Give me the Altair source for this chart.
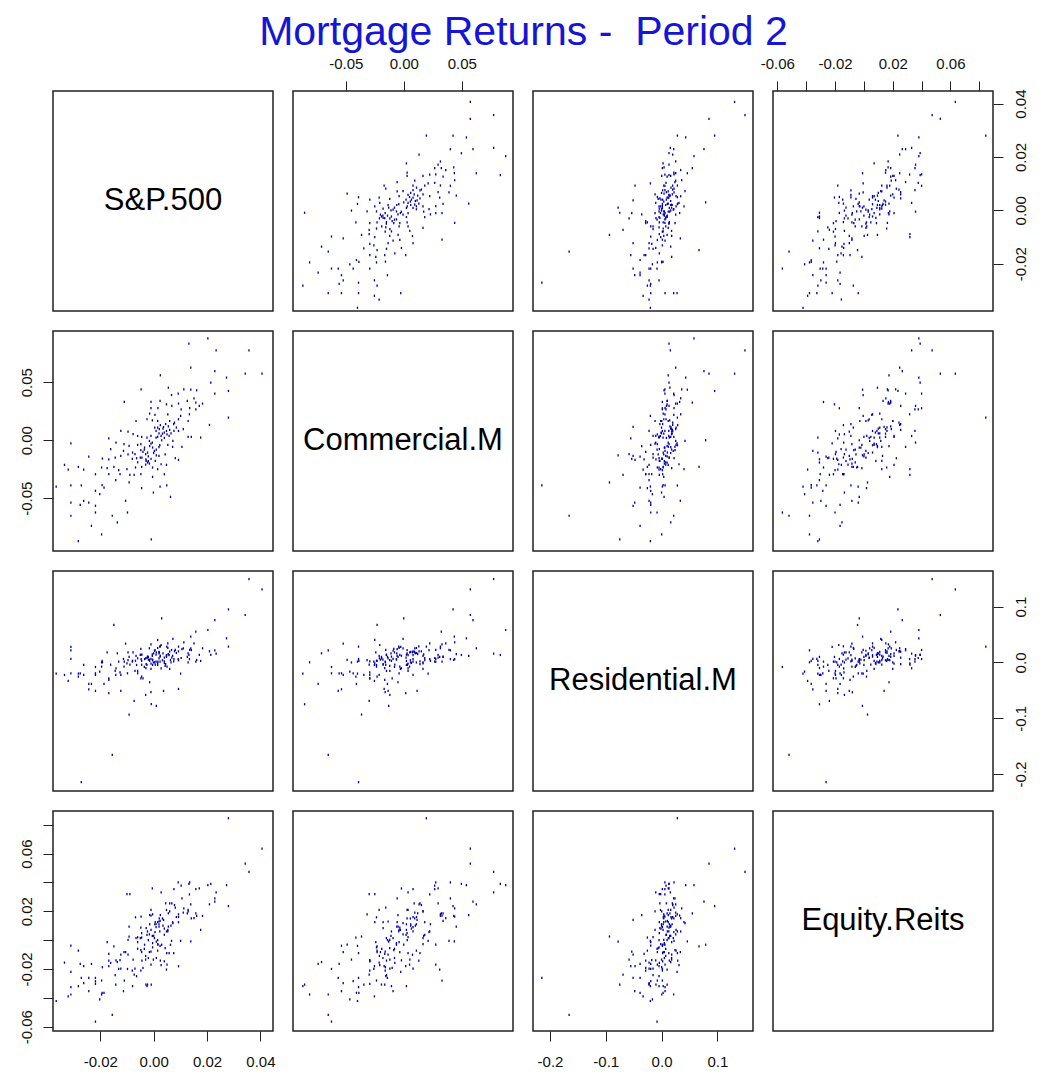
import altair as alt
import pandas as pd
import numpy as np

TITLE = "Mortgage Returns -\u00a0 Period 2"
NAMES = ["S&P.500", "Commercial.M", "Residential.M", "Equity.Reits"]
VARS = ["sp", "cm", "re", "eq"]

# ---- S&P.500 vs Commercial.M (read from the S&P / Commercial panel) ----
comm_sp = [0.0203,0.0132,0.0234,0.0357,0.0139,0.0229,0.0025,0.0343,0.0406,0.0214,
0.0273,0.0055,-0.0047,0.0280,0.0229,0.0113,0.0139,0.0161,0.0092,0.0067,
-0.0110,-0.0010,0.0024,0.0048,0.0068,0.0093,0.0126,0.0151,0.0158,0.0183,
0.0171,0.0158,0.0103,0.0135,-0.0010,0.0016,-0.0015,0.0005,0.0053,0.0101,
0.0134,0.0129,0.0093,0.0078,0.0060,0.0280,0.0209,-0.0066,-0.0025,-0.0005,
0.0015,0.0037,0.0021,0.0004,0.0048,0.0033,0.0058,0.0076,0.0093,0.0111,
0.0129,0.0141,0.0176,-0.0123,-0.0096,-0.0077,-0.0060,-0.0045,-0.0025,-0.0010,
0.0009,-0.0168,-0.0310,-0.0141,-0.0111,-0.0092,-0.0060,-0.0034,-0.0010,0.0023,
0.0053,0.0071,0.0106,-0.0161,-0.0113,-0.0096,-0.0079,-0.0048,-0.0023,0.0003,
0.0020,0.0043,0.0081,0.0093,-0.0243,-0.0192,-0.0168,-0.0144,-0.0123,-0.0064,
-0.0044,-0.0028,-0.0016,0.0006,0.0028,0.0048,-0.0334,-0.0320,-0.0282,-0.0262,
-0.0195,-0.0174,-0.0149,-0.0131,-0.0100,-0.0068,-0.0045,-0.0004,0.0015,-0.0218,
-0.0168,-0.0126,-0.0089,-0.0073,-0.0048,-0.0004,0.0040,-0.0142,-0.0092,-0.0365,
-0.0310,-0.0271,-0.0193,-0.0186,-0.0045,0.0024,0.0049,-0.0218,-0.0202,-0.0001,
0.0063,-0.0310,-0.0275,-0.0262,-0.0243,-0.0105,-0.0218,-0.0310,-0.0218,-0.0098,
-0.0155,-0.0136,-0.0233,-0.0195,-0.0282,-0.0009,
0.0009,0.0028,0.0040,-0.0016,-0.0004,-0.0029,-0.0023,0.0015,0.0072,-0.0048,
-0.0040,-0.0030,-0.0020,-0.0010,0.0000,0.0010,0.0020,0.0030,0.0040,0.0050,
0.0060,0.0035,0.0025,0.0045,0.0055,0.0065,-0.0005,-0.0015,-0.0035,-0.0050,
-0.0060,-0.0030,-0.0020,0.0010,0.0020,0.0015,-0.0070,-0.0080,0.0085,0.0075]
comm_val = [0.0879,0.0833,0.0775,0.0775,0.0626,0.0597,0.0560,0.0574,0.0574,0.0497,
0.0540,0.0453,0.0439,0.0425,0.0402,0.0439,0.0436,0.0431,0.0402,0.0390,
0.0330,0.0330,0.0339,0.0310,0.0296,0.0316,0.0339,0.0362,0.0324,0.0316,
0.0296,0.0267,0.0267,0.0276,0.0276,0.0276,0.0230,0.0218,0.0224,0.0210,
0.0224,0.0166,0.0181,0.0152,0.0166,0.0195,0.0132,0.0166,0.0181,0.0172,
0.0166,0.0115,0.0095,0.0109,0.0080,0.0057,0.0037,0.0080,0.0080,0.0095,
0.0029,0.0029,0.0023,0.0080,0.0075,0.0052,0.0037,0.0029,0.0023,0.0037,
0.0023,0.0017,-0.0026,-0.0020,-0.0034,-0.0049,-0.0040,-0.0063,-0.0029,-0.0043,
-0.0040,-0.0057,-0.0057,-0.0077,-0.0092,-0.0121,-0.0106,-0.0086,-0.0106,-0.0092,
-0.0135,-0.0121,-0.0155,-0.0169,-0.0141,-0.0158,-0.0164,-0.0149,-0.0135,-0.0155,
-0.0149,-0.0178,-0.0201,-0.0178,-0.0207,-0.0212,-0.0212,-0.0253,-0.0230,-0.0253,
-0.0235,-0.0241,-0.0230,-0.0258,-0.0250,-0.0235,-0.0230,-0.0235,-0.0250,-0.0293,
-0.0293,-0.0293,-0.0298,-0.0298,-0.0293,-0.0316,-0.0293,-0.0344,-0.0364,-0.0399,
-0.0390,-0.0390,-0.0387,-0.0408,-0.0413,-0.0399,-0.0390,-0.0436,-0.0465,-0.0451,
-0.0488,-0.0537,-0.0557,-0.0522,-0.0537,-0.0522,-0.0565,-0.0651,-0.0623,-0.0623,
-0.0651,-0.0709,-0.0738,-0.0812,-0.0870,-0.0855,
0.0080,0.0037,0.0066,-0.0006,-0.0063,-0.0164,-0.0192,0.0109,-0.0006,-0.0034,
-0.0100,-0.0120,-0.0140,-0.0160,-0.0110,-0.0080,-0.0060,0.0000,0.0020,0.0050,
0.0090,0.0100,0.0130,0.0140,0.0120,0.0060,-0.0020,-0.0050,-0.0080,-0.0150,
-0.0190,-0.0210,-0.0180,-0.0130,0.0060,0.0030,-0.0120,-0.0160,0.0110,0.0140]

# ---- S&P.500 vs Equity.Reits (read from the S&P / Equity panel) ----
eq_sp = [0.0203,0.0357,0.0343,0.0406,0.0276,0.0280,0.0217,0.0228,-0.0122,0.0006,
0.0024,0.0068,0.0113,0.0132,0.0140,0.0164,0.0129,0.0068,0.0063,0.0084,
0.0097,0.0158,0.0185,0.0210,0.0229,0.0233,-0.0097,-0.0067,-0.0076,-0.0054,
-0.0035,-0.0010,0.0009,0.0028,0.0050,0.0066,0.0091,0.0103,0.0118,0.0136,
0.0139,0.0154,0.0160,0.0176,-0.0019,0.0003,0.0021,0.0040,0.0059,0.0078,
0.0097,0.0116,0.0129,-0.0016,0.0003,0.0015,0.0034,0.0047,0.0072,0.0103,
0.0171,-0.0134,-0.0115,-0.0096,-0.0073,-0.0052,-0.0035,-0.0023,-0.0004,0.0021,
0.0043,0.0068,-0.0161,-0.0146,-0.0310,-0.0258,-0.0166,-0.0150,-0.0117,-0.0096,
-0.0078,-0.0060,-0.0048,-0.0025,0.0009,0.0028,0.0050,0.0076,-0.0218,-0.0168,
-0.0146,-0.0123,-0.0105,-0.0086,-0.0060,-0.0035,-0.0016,0.0005,0.0043,0.0050,
-0.0310,-0.0282,-0.0243,-0.0214,-0.0184,-0.0159,-0.0136,-0.0117,-0.0096,-0.0073,
-0.0043,-0.0010,0.0038,0.0087,-0.0260,-0.0252,-0.0193,-0.0174,-0.0152,-0.0134,
-0.0111,-0.0073,-0.0053,-0.0010,-0.0004,-0.0365,-0.0307,-0.0285,-0.0194,-0.0079,
-0.0334,-0.0323,-0.0305,-0.0270,-0.0273,-0.0232,-0.0194,-0.0102,-0.0243,-0.0263,
-0.0010,-0.0023,0.0009,0.0028,-0.0048,0.0015,-0.0030,0.0035,-0.0060,0.0060,
-0.0030,-0.0020,0.0000,0.0010,0.0020,0.0030,0.0040,0.0050,0.0060,0.0070,
0.0080,-0.0010,-0.0040,-0.0050,0.0025,0.0045,0.0055,0.0090,-0.0015,0.0015,
-0.0065,-0.0080,0.0100,0.0110,-0.0025]
eq_val = [0.0845,0.0634,0.0530,0.0473,0.0381,0.0331,0.0390,0.0390,0.0319,0.0358,
0.0331,0.0354,0.0377,0.0400,0.0354,0.0358,0.0317,0.0289,0.0255,0.0243,
0.0255,0.0248,0.0248,0.0289,0.0266,0.0236,0.0158,0.0179,0.0094,0.0083,
0.0087,0.0174,0.0209,0.0225,0.0163,0.0186,0.0209,0.0174,0.0179,0.0186,
0.0220,0.0186,0.0152,0.0168,0.0124,0.0129,0.0110,0.0124,0.0117,0.0133,
0.0124,0.0094,0.0071,0.0048,0.0071,0.0037,0.0037,0.0055,0.0060,-0.0005,
-0.0009,0.0025,0.0018,0.0002,0.0014,-0.0014,-0.0032,-0.0032,-0.0021,-0.0032,
-0.0028,-0.0032,-0.0014,-0.0044,-0.0039,-0.0073,-0.0083,-0.0096,-0.0101,-0.0083,
-0.0083,-0.0101,-0.0083,-0.0090,-0.0055,-0.0073,-0.0090,-0.0090,-0.0152,-0.0142,
-0.0138,-0.0158,-0.0140,-0.0135,-0.0142,-0.0135,-0.0147,-0.0124,-0.0142,-0.0170,
-0.0165,-0.0156,-0.0181,-0.0220,-0.0200,-0.0188,-0.0200,-0.0181,-0.0211,-0.0197,
-0.0193,-0.0174,-0.0181,-0.0204,-0.0262,-0.0285,-0.0262,-0.0280,-0.0308,-0.0243,
-0.0239,-0.0250,-0.0308,-0.0280,-0.0319,-0.0319,-0.0326,-0.0298,-0.0303,-0.0319,
-0.0377,-0.0422,-0.0377,-0.0354,-0.0390,-0.0411,-0.0365,-0.0354,-0.0519,-0.0565,
0.0014,0.0060,0.0094,0.0071,-0.0124,0.0000,-0.0060,0.0150,-0.0040,0.0100,
0.0000,0.0020,0.0040,0.0060,0.0090,0.0110,0.0080,0.0140,0.0170,0.0200,
0.0160,-0.0010,-0.0050,-0.0070,0.0030,0.0100,0.0060,0.0190,0.0030,0.0110,
-0.0110,-0.0060,0.0150,0.0200,-0.0080]

# ---- S&P.500 vs Residential.M (read from the S&P / Residential panel) ----
res_sp = [0.0406,0.0355,0.0236,0.0343,0.0229,0.0024,-0.0122,0.0277,0.0273,0.0145,
0.0164,0.0052,-0.0014,-0.0180,-0.0149,-0.0334,-0.0262,-0.0257,-0.0243,-0.0185,
-0.0170,-0.0142,-0.0140,-0.0155,-0.0198,-0.0212,-0.0115,-0.0098,-0.0089,-0.0077,
-0.0067,-0.0054,-0.0042,-0.0032,-0.0016,-0.0004,0.0004,0.0016,0.0029,0.0042,
0.0054,0.0069,0.0083,0.0097,0.0110,0.0122,0.0135,0.0155,0.0170,0.0185,
0.0205,0.0215,0.0227,0.0280,0.0175,0.0156,0.0137,0.0120,0.0103,0.0091,
0.0072,0.0062,0.0047,0.0034,0.0021,0.0009,-0.0004,-0.0016,-0.0029,-0.0044,
-0.0059,-0.0072,-0.0092,-0.0105,-0.0120,-0.0136,-0.0158,-0.0173,-0.0186,-0.0215,
-0.0256,-0.0277,-0.0306,-0.0319,-0.0365,-0.0282,-0.0252,-0.0244,-0.0218,-0.0168,
-0.0155,-0.0123,-0.0097,-0.0077,-0.0057,-0.0035,-0.0014,0.0009,0.0028,0.0049,
0.0069,0.0095,0.0021,0.0042,0.0003,-0.0029,-0.0006,-0.0097,-0.0097,-0.0096,
-0.0136,-0.0105,-0.0016,-0.0023,-0.0001,0.0037,0.0049,-0.0194,-0.0233,-0.0023,
-0.0010,0.0015,0.0028,-0.0029,-0.0048,0.0044,0.0059,0.0084,-0.0054,-0.0040,
0.0000,0.0012,0.0036,0.0052,0.0066,0.0078,-0.0062,0.0025,0.0100,-0.0020,
0.0013,0.0055,0.0110,-0.0080,
-0.0030,-0.0020,-0.0010,0.0000,0.0010,0.0020,0.0030,0.0040,0.0050,0.0060,
0.0070,0.0080,-0.0040,-0.0050,-0.0060,0.0045,0.0035,-0.0015,0.0025,0.0015,
0.0090,0.0105,-0.0070,0.0065,-0.0025,0.0000,0.0055,-0.0045,0.0120,0.0135,
-0.0085,0.0030,0.0075,-0.0100,0.0018,-0.0035,0.0095,0.0150,0.0040,-0.0010]
res_val = [0.1496,0.1310,0.0952,0.0851,0.0761,0.0791,0.0672,0.0582,0.0433,0.0552,
0.0463,0.0421,0.0403,0.0278,0.0337,0.0218,0.0063,0.0003,-0.0081,0.0164,
0.0027,0.0182,0.0003,-0.0075,-0.0045,-0.0194,0.0015,-0.0015,0.0063,0.0015,
0.0075,0.0134,0.0182,0.0242,0.0284,0.0313,0.0254,0.0284,0.0224,0.0290,
0.0325,0.0343,0.0254,0.0224,0.0284,0.0224,0.0361,0.0343,0.0254,0.0254,
0.0284,0.0218,0.0134,0.0158,0.0045,0.0134,0.0015,0.0027,0.0003,0.0087,
0.0104,0.0015,0.0063,0.0087,0.0015,0.0075,0.0015,0.0104,0.0045,0.0015,
-0.0045,-0.0075,-0.0104,-0.0152,-0.0176,-0.0224,-0.0194,-0.0224,-0.0164,-0.0254,
-0.0224,-0.0194,-0.0194,-0.0200,-0.0200,-0.0385,-0.0331,-0.0481,-0.0510,-0.0385,
-0.0284,-0.0313,-0.0254,-0.0284,-0.0224,-0.0194,-0.0152,-0.0116,-0.0104,-0.0075,
-0.0116,-0.0200,-0.0045,-0.0015,-0.0045,-0.0284,-0.0355,-0.0510,-0.0552,-0.0690,
-0.0749,-0.0934,-0.0534,-0.0582,-0.0779,-0.0475,-0.0510,-0.1657,-0.2146,0.0134,
0.0164,0.0164,0.0146,-0.0045,0.0075,0.0164,0.0194,0.0164,-0.0152,0.0100,
0.0050,0.0120,0.0040,0.0130,0.0060,0.0200,0.0030,0.0190,0.0120,-0.0080,
-0.0020,0.0000,0.0150,0.0040,
0.0050,0.0100,0.0020,0.0120,0.0180,0.0080,0.0030,0.0120,0.0060,0.0150,
0.0020,0.0100,-0.0030,0.0040,0.0100,0.0220,0.0180,0.0060,0.0000,-0.0060,
0.0040,0.0080,0.0000,0.0240,0.0180,0.0210,-0.0030,0.0140,0.0060,0.0100,
0.0030,0.0260,0.0170,-0.0040,0.0140,-0.0100,0.0220,0.0200,-0.0010,-0.0040]

# tick values and panel ranges of each variable
TICKS = {"sp": [-0.02, 0.0, 0.02, 0.04],
         "cm": [-0.05, 0.0, 0.05],
         "re": [-0.2, -0.1, 0.0, 0.1],
         "eq": [-0.06, -0.04, -0.02, 0.0, 0.02, 0.04, 0.06, 0.08]}
FMT = {"sp": ".2f", "cm": ".2f", "re": ".1f", "eq": ".2f"}
DOMAIN = {"sp": [-0.0377, 0.0447], "cm": [-0.0955, 0.0942],
          "re": [-0.2305, 0.164], "eq": [-0.063, 0.0895]}

# ---- join the three readings into one table of observations (by rank) ----
obs = pd.DataFrame({"sp": comm_sp, "cm": comm_val})
z = (obs["sp"] - obs["sp"].mean()) / obs["sp"].std() + 0.6 * (obs["cm"] - obs["cm"].mean()) / obs["cm"].std()
obs = obs.assign(score=z).sort_values("score").reset_index(drop=True)
eqd = pd.DataFrame({"s": eq_sp, "v": eq_val}).sort_values("s").reset_index(drop=True)
red = pd.DataFrame({"s": res_sp, "v": res_val}).sort_values("s").reset_index(drop=True)
N = len(obs)
ie = np.round(np.arange(N) * (len(eqd) - 1) / (N - 1)).astype(int)
ir = np.round(np.arange(N) * (len(red) - 1) / (N - 1)).astype(int)
obs["eq"] = eqd["v"].values[ie]
obs["re"] = red["v"].values[ir]
obs = obs[["sp", "cm", "re", "eq"]]

FONT = "Liberation Sans"
W = 220
H = 220
PT_COLOR = "#0000b0"
PT_SHAPE = "M-0.6,-1L0.6,-1L0.6,1L-0.6,1Z"


def make_axis(var, orient):
    expr = "replace(datum.label, '\u2212', '-')"
    if var == "eq":
        expr = "abs(round(datum.value*100)) % 4 == 2 ? " + expr + " : ''"
    kw = dict(orient=orient, values=TICKS[var], format=FMT[var], labelExpr=expr,
              domain=False, grid=False, ticks=True, tickSize=10, tickColor="#222",
              tickWidth=1, labelFont=FONT, labelFontSize=15, labelColor="#111",
              labelOverlap=False, labelFlush=False, title=None)
    if orient in ("left", "right"):
        kw["labelAngle"] = 270
        kw["labelAlign"] = "center"
        kw["labelBaseline"] = "bottom" if orient == "left" else "top"
        kw["labelPadding"] = 9 if orient == "left" else 10
    else:
        kw["labelAngle"] = 0
        kw["labelAlign"] = "center"
        kw["labelBaseline"] = "bottom" if orient == "top" else "top"
        kw["labelPadding"] = 10 if orient == "top" else 13
    return alt.Axis(**kw)


X_AXES = {(0, 1): "top", (0, 3): "top", (3, 0): "bottom", (3, 2): "bottom"}
Y_AXES = {(1, 0): "left", (3, 0): "left", (0, 3): "right", (2, 3): "right"}

panels = []
for r in range(4):
    for c in range(4):
        if r == c:
            p = alt.Chart(pd.DataFrame({"t": [NAMES[r]]})).mark_text(
                font=FONT, fontSize=31, color="#000"
            ).encode(x=alt.value(W / 2), y=alt.value(H / 2), text="t:N")
        else:
            xv, yv = VARS[c], VARS[r]
            xo = X_AXES.get((r, c))
            yo = Y_AXES.get((r, c))
            p = alt.Chart(obs).mark_point(
                shape=PT_SHAPE, size=5, filled=True, strokeWidth=0,
                color=PT_COLOR, opacity=1, clip=True
            ).encode(
                x=alt.X(f"{xv}:Q", scale=alt.Scale(domain=DOMAIN[xv], nice=False, zero=False),
                        axis=make_axis(xv, xo) if xo else None),
                y=alt.Y(f"{yv}:Q", scale=alt.Scale(domain=DOMAIN[yv], nice=False, zero=False),
                        axis=make_axis(yv, yo) if yo else None),
            )
        panels.append(p.properties(width=W, height=H))

chart = alt.concat(*panels, columns=4, spacing=20, bounds="flush").properties(
    title=alt.TitleParams(TITLE, font=FONT, fontSize=41, fontWeight="normal",
                          color="#1515d5", anchor="middle", offset=1),
    padding={"left": 10, "top": 4, "right": 5, "bottom": 5},
).configure_view(stroke="#222", strokeWidth=1.5)

chart.save("out.html", embed_options={"renderer": "svg", "actions": False})
